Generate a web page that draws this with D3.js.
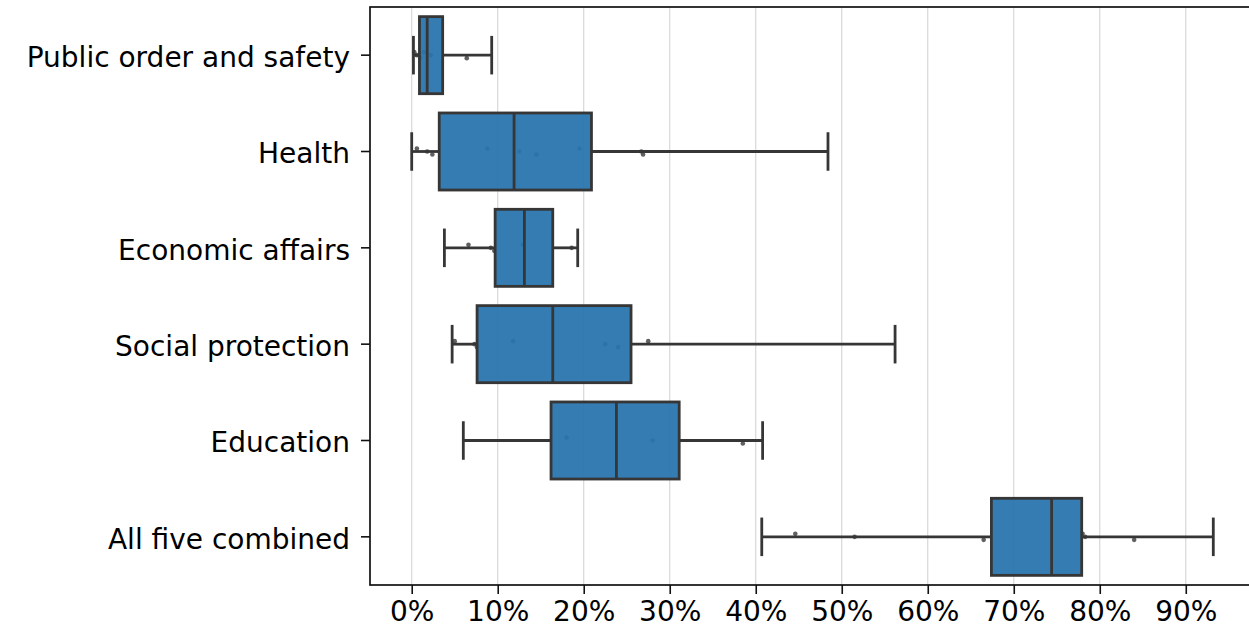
<!DOCTYPE html>
<html>
<head>
<meta charset="utf-8">
<script src="https://cdn.jsdelivr.net/npm/d3@7"></script>
<style>
  html, body { margin: 0; padding: 0; background: #ffffff; }
  svg { display: block; }
  text { font-family: "DejaVu Sans", sans-serif; fill: #000; }
</style>
</head>
<body>
<svg id="chart" width="1249" height="630"></svg>
<script>
// ---- data ----
const categories = ["Public order and safety", "Health", "Economic affairs",
                    "Social protection", "Education", "All five combined"];
const whiskerLow  = [0.2, 0.0, 3.8, 4.7, 6.0, 40.7];
const q1Values    = [0.9, 3.2, 9.7, 7.6, 16.2, 67.4];
const medians     = [1.8, 11.9, 13.1, 16.4, 23.8, 74.4];
const q3Values    = [3.6, 20.9, 16.4, 25.5, 31.1, 77.9];
const whiskerHigh = [9.3, 48.4, 19.3, 56.2, 40.8, 93.2];
const stripPoints = [
  [0.3, 0.6, 1.0, 1.4, 2.2, 6.4],
  [0.6, 1.8, 2.4, 8.8, 12.5, 14.5, 19.5, 26.7, 26.9],
  [6.6, 9.2, 9.6, 12.9, 18.6],
  [5.0, 7.3, 7.6, 11.8, 22.5, 24.0, 27.5],
  [18.0, 28.0, 38.5],
  [44.6, 51.5, 66.5, 78.0, 78.3, 84.0]
];
const tickValues = [0, 10, 20, 30, 40, 50, 60, 70, 80, 90];
const tickLabels = ["0%", "10%", "20%", "30%", "40%", "50%", "60%", "70%", "80%", "90%"];

(function () {
// ---- layout ----
const svg = d3.select("#chart");
const pLeft = 370, pRight = 1252, pTop = 7, pBottom = 585;
const boxColor = "#2874ae", lineColor = "#363636";

const x = d3.scaleLinear().domain([-4.85, 97.7]).range([pLeft, pRight]);
const y = d3.scaleBand().domain(categories).range([pTop, pBottom]).paddingInner(0).paddingOuter(0);
const bw = y.bandwidth() * 0.8;

// grid
svg.append("g").selectAll("line").data(tickValues).join("line")
  .attr("x1", d => x(d)).attr("x2", d => x(d))
  .attr("y1", pTop).attr("y2", pBottom)
  .attr("stroke", "#d4d4d4").attr("stroke-width", 1.1);

const rows = categories.map((c, i) => ({
  cat: c, lo: whiskerLow[i], q1: q1Values[i], med: medians[i], q3: q3Values[i],
  hi: whiskerHigh[i], pts: stripPoints[i]
}));

const g = svg.append("g");
const sw = 2.8;
rows.forEach(r => {
  const cy = y(r.cat) + y.bandwidth() / 2;
  g.append("g").selectAll("circle").data(r.pts).join("circle")
    .attr("cx", d => x(d))
    .attr("cy", (d, j) => cy + ((j % 3) - 1) * 3)
    .attr("r", 2.3).attr("fill", "#444").attr("opacity", 0.85);
  g.append("line").attr("x1", x(r.lo)).attr("x2", x(r.q1)).attr("y1", cy).attr("y2", cy)
    .attr("stroke", lineColor).attr("stroke-width", sw);
  g.append("line").attr("x1", x(r.q3)).attr("x2", x(r.hi)).attr("y1", cy).attr("y2", cy)
    .attr("stroke", lineColor).attr("stroke-width", sw);
  [r.lo, r.hi].forEach(v => {
    g.append("line").attr("x1", x(v)).attr("x2", x(v))
      .attr("y1", cy - bw / 4).attr("y2", cy + bw / 4)
      .attr("stroke", lineColor).attr("stroke-width", sw);
  });
  g.append("rect")
    .attr("x", x(r.q1)).attr("y", cy - bw / 2)
    .attr("width", x(r.q3) - x(r.q1)).attr("height", bw)
    .attr("fill", boxColor).attr("fill-opacity", 0.94)
    .attr("stroke", lineColor).attr("stroke-width", sw);
  g.append("line").attr("x1", x(r.med)).attr("x2", x(r.med))
    .attr("y1", cy - bw / 2).attr("y2", cy + bw / 2)
    .attr("stroke", lineColor).attr("stroke-width", sw);
});

// frame
svg.append("rect").attr("x", pLeft).attr("y", pTop)
  .attr("width", pRight - pLeft).attr("height", pBottom - pTop)
  .attr("fill", "none").attr("stroke", "#111").attr("stroke-width", 1.7);

// x axis
const xAxis = d3.axisBottom(x).tickValues(tickValues)
  .tickFormat((d, i) => tickLabels[i]).tickSize(9).tickPadding(7);
const xg = svg.append("g").attr("transform", `translate(0,${pBottom})`).call(xAxis);
xg.select(".domain").remove();
xg.selectAll(".tick line").attr("stroke", "#111").attr("stroke-width", 1.6);
xg.selectAll(".tick text").attr("font-size", 28).attr("font-family", "DejaVu Sans").attr("fill", "#111");

// y axis
const yAxis = d3.axisLeft(y).tickSize(9).tickPadding(11);
const yg = svg.append("g").attr("transform", `translate(${pLeft},0)`).call(yAxis);
yg.select(".domain").remove();
yg.selectAll(".tick line").attr("stroke", "#111").attr("stroke-width", 1.6);
yg.selectAll(".tick text").attr("font-size", 28).attr("font-family", "DejaVu Sans").attr("fill", "#111")
  .attr("dy", "0.42em");
})();
</script>
</body>
</html>
